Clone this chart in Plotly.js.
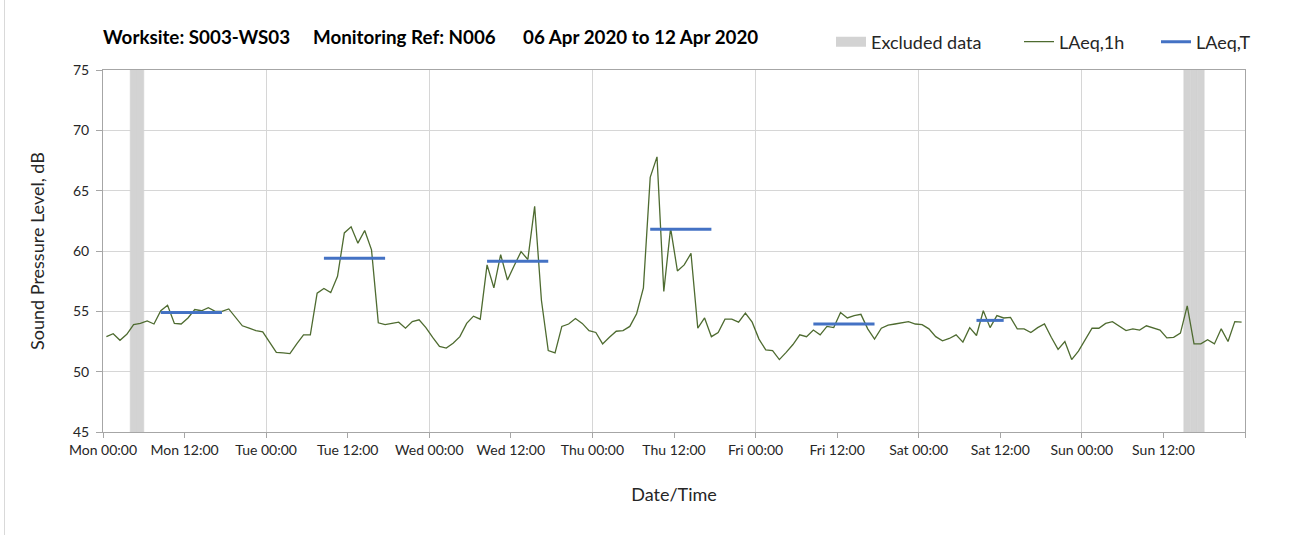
<!DOCTYPE html>
<html>
<head>
<meta charset="utf-8">
<script src="https://cdn.plot.ly/plotly-3.0.1.min.js"></script>
<style>
  html, body { margin: 0; padding: 0; background: #ffffff; }
  #chart { width: 1307px; height: 535px; }
</style>
</head>
<body>
<div id="chart"></div>
<script>
// ---------------- DATA ----------------
const periodStart = '2020-04-06 00:00';
const periodEnd = '2020-04-13 00:00';

// LAeq,1h – one value per hour, starting Mon 06 Apr 2020 00:00
const laeq1hMon = [52.9, 53.15, 52.6, 53.1, 53.9, 54.0, 54.2, 53.95, 55.05, 55.5, 54.0, 53.95, 54.45, 55.15, 55.05, 55.3, 55.0, 55.0, 55.2, 54.5, 53.8, 53.6, 53.4, 53.3];
const laeq1hTue = [52.45, 51.6, 51.55, 51.5, 52.3, 53.05, 53.05, 56.5, 56.9, 56.55, 57.9, 61.5, 62.0, 60.65, 61.7, 60.1, 54.05, 53.9, 54.0, 54.1, 53.6, 54.15, 54.3, 53.65];
const laeq1hWed = [52.85, 52.1, 51.95, 52.35, 52.9, 54.0, 54.6, 54.35, 58.85, 56.95, 59.7, 57.6, 58.8, 59.95, 59.3, 63.7, 55.9, 51.75, 51.55, 53.75, 53.95, 54.4, 54.0, 53.4];
const laeq1hThu = [53.25, 52.3, 52.85, 53.35, 53.4, 53.75, 54.8, 56.95, 66.1, 67.8, 56.65, 61.9, 58.35, 58.85, 59.8, 53.6, 54.45, 52.9, 53.25, 54.35, 54.35, 54.1, 54.85, 54.1];
const laeq1hFri = [52.7, 51.8, 51.75, 51.0, 51.6, 52.25, 53.05, 52.9, 53.45, 53.05, 53.75, 53.65, 54.9, 54.45, 54.65, 54.75, 53.55, 52.7, 53.6, 53.85, 53.95, 54.05, 54.15, 53.95];
const laeq1hSat = [53.9, 53.55, 52.9, 52.55, 52.75, 53.05, 52.45, 53.65, 53.0, 55.05, 53.65, 54.65, 54.45, 54.5, 53.55, 53.55, 53.25, 53.65, 53.95, 52.85, 51.85, 52.5, 51.0, 51.7];
const laeq1hSun = [52.65, 53.6, 53.6, 54.0, 54.15, 53.75, 53.4, 53.55, 53.45, 53.8, 53.6, 53.45, 52.8, 52.85, 53.2, 55.45, 52.3, 52.3, 52.65, 52.3, 53.55, 52.5, 54.15, 54.1];

// LAeq,T – working-hours periods
const tPeriodStart = ['2020-04-06 08:00', '2020-04-07 08:00', '2020-04-08 08:00', '2020-04-09 08:00', '2020-04-10 08:00', '2020-04-11 08:00'];
const tPeriodEnd   = ['2020-04-06 18:00', '2020-04-07 18:00', '2020-04-08 18:00', '2020-04-09 18:00', '2020-04-10 18:00', '2020-04-11 13:00'];
const laeqT        = [54.9, 59.4, 59.15, 61.8, 53.95, 54.25];

// Excluded hours (start of each excluded hour)
const excludedHours = ['2020-04-06 04:00', '2020-04-06 05:00', '2020-04-12 15:00', '2020-04-12 16:00', '2020-04-12 17:00'];

// Axis
const yRange = [45, 75];
const yTicks = [45, 50, 55, 60, 65, 70, 75];
const xTickLabels = ['Mon 00:00', 'Mon 12:00', 'Tue 00:00', 'Tue 12:00', 'Wed 00:00', 'Wed 12:00', 'Thu 00:00', 'Thu 12:00', 'Fri 00:00', 'Fri 12:00', 'Sat 00:00', 'Sat 12:00', 'Sun 00:00', 'Sun 12:00', ''];

const titleText = 'Worksite: S003-WS03\u00a0\u00a0\u00a0\u00a0\u00a0Monitoring Ref: N006\u00a0\u00a0\u00a0\u00a0\u00a0\u00a006 Apr 2020 to 12 Apr 2020';

// ---------------- HELPERS ----------------
const HOUR = 3600000;
function parse(s) { const [d, t] = s.split(' '); const [Y, M, D] = d.split('-').map(Number); const [h, m] = t.split(':').map(Number); return Date.UTC(Y, M - 1, D, h, m); }
function fmt(ms) { const d = new Date(ms); const p = n => String(n).padStart(2, '0');
  return d.getUTCFullYear() + '-' + p(d.getUTCMonth() + 1) + '-' + p(d.getUTCDate()) + ' ' + p(d.getUTCHours()) + ':' + p(d.getUTCMinutes()); }

const laeq1h = [].concat(laeq1hMon, laeq1hTue, laeq1hWed, laeq1hThu, laeq1hFri, laeq1hSat, laeq1hSun);
const t0 = parse(periodStart);
const t1 = parse(periodEnd);
const hourMid = laeq1h.map((_, i) => fmt(t0 + i * HOUR + HOUR / 2));

// LAeq,T segments from first to last hourly midpoint of each period
const tX = [], tY = [];
tPeriodStart.forEach((s, k) => {
  tX.push(fmt(parse(s) + HOUR / 2), fmt(parse(tPeriodEnd[k]) - HOUR / 2), fmt(parse(tPeriodEnd[k])));
  tY.push(laeqT[k], laeqT[k], null);
});

const exX = excludedHours.map(s => fmt(parse(s) + HOUR / 2));
const xTickVals = xTickLabels.map((_, i) => fmt(t0 + i * 12 * HOUR));
const dayVals = [];
for (let t = t0; t <= t1; t += 24 * HOUR) dayVals.push(fmt(t));

// ---------------- PLOT ----------------
const FONT = 'Lato, "Open Sans", sans-serif';
const EXCL = '#d3d3d3';
const plotL = 103, plotR = 1245, plotT = 70, plotB = 432, W = 1307, H = 535;
const px = x => (x - plotL) / (plotR - plotL);
const py = y => (plotB - y) / (plotB - plotT);

const traces = [
  {
    type: 'bar', name: 'Excluded data', x: exX,
    y: exX.map(() => yRange[1] - yRange[0]), base: yRange[0],
    width: HOUR, marker: { color: EXCL, line: { width: 0.6, color: EXCL } },
    xaxis: 'x', yaxis: 'y', showlegend: false, hoverinfo: 'skip'
  },
  { // legend key for the excluded-data columns
    type: 'scatter', mode: 'lines', name: 'Excluded data', x: [null], y: [null],
    line: { color: EXCL, width: 12 }, xaxis: 'x', yaxis: 'y', legend: 'legend', showlegend: true
  },
  {
    type: 'scatter', mode: 'lines', name: 'LAeq,1h', x: hourMid, y: laeq1h,
    line: { color: '#4e6b30', width: 1.3 }, xaxis: 'x2', yaxis: 'y', legend: 'legend2'
  },
  {
    type: 'scatter', mode: 'lines', name: 'LAeq,T', x: tX, y: tY, connectgaps: false,
    line: { color: '#4472c4', width: 3 }, xaxis: 'x2', yaxis: 'y', legend: 'legend3'
  }
];

const legendBase = { orientation: 'h', yanchor: 'middle', xanchor: 'left', y: py(42),
  font: { family: FONT, size: 18, color: '#262626' }, bgcolor: 'rgba(0,0,0,0)', borderwidth: 0 };

const layout = {
  width: W, height: H,
  margin: { l: plotL, r: W - plotR, t: plotT, b: H - plotB, pad: 0 },
  paper_bgcolor: '#ffffff', plot_bgcolor: '#ffffff',
  font: { family: FONT, color: '#262626' },
  title: {
    text: titleText, font: { family: FONT, size: 18.8, color: '#000000', weight: 'bold' },
    xref: 'paper', x: 0, xanchor: 'left', yref: 'container', y: 1 - 37 / H, yanchor: 'middle'
  },
  barmode: 'overlay',
  showlegend: true,
  legend: Object.assign({}, legendBase, { x: px(831) }),
  legend2: Object.assign({}, legendBase, { x: px(1019) }),
  legend3: Object.assign({}, legendBase, { x: px(1156) }),
  shapes: [
    { type: 'line', xref: 'paper', yref: 'paper', x0: px(4.5), x1: px(4.5), y0: py(0), y1: py(535),
      line: { color: '#d9d9d9', width: 1 } }
  ],
  xaxis: {
    type: 'date', range: [fmt(t0), fmt(t1)],
    tickmode: 'array', tickvals: xTickVals, ticktext: xTickLabels,
    showgrid: false, zeroline: false,
    showline: true, linecolor: '#a6a6a6', linewidth: 1, mirror: true,
    ticks: 'outside', ticklen: 5, tickcolor: '#a6a6a6', tickwidth: 1,
    tickfont: { family: FONT, size: 14, color: '#262626' },
    title: { text: 'Date/Time', font: { family: FONT, size: 18, color: '#262626' }, standoff: 31 },
    automargin: false
  },
  xaxis2: {
    type: 'date', range: [fmt(t0), fmt(t1)], overlaying: 'x', anchor: 'y',
    tickmode: 'array', tickvals: dayVals, showticklabels: false, ticks: '',
    showgrid: true, gridcolor: '#d6d6d6', gridwidth: 1, zeroline: false, showline: false
  },
  yaxis: {
    range: yRange, tickmode: 'array', tickvals: yTicks,
    showgrid: true, gridcolor: '#d6d6d6', gridwidth: 1, zeroline: false,
    showline: true, linecolor: '#a6a6a6', linewidth: 1, mirror: true,
    ticks: 'outside', ticklen: 6, tickcolor: '#a6a6a6', tickwidth: 1, ticklabelstandoff: 4,
    tickfont: { family: FONT, size: 14, color: '#262626' },
    title: { text: 'Sound Pressure Level, dB', font: { family: FONT, size: 18, color: '#262626' }, standoff: 23 },
    automargin: false
  }
};

Plotly.newPlot('chart', traces, layout, { displayModeBar: false, staticPlot: true });
</script>
</body>
</html>
